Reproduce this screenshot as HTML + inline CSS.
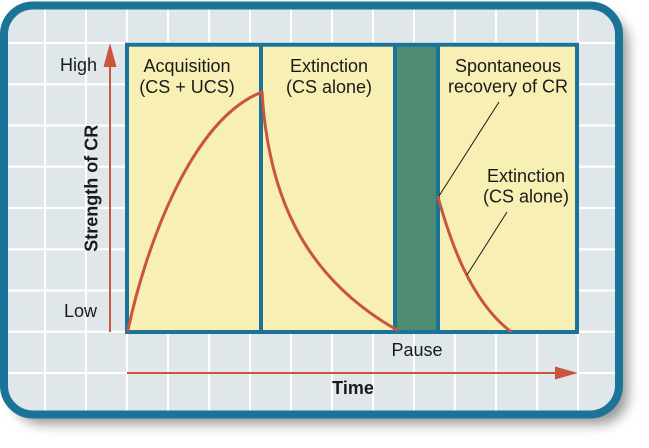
<!DOCTYPE html>
<html><head><meta charset="utf-8"><style>
html,body{margin:0;padding:0;background:#fff;}
svg{display:block;}
text{font-family:"Liberation Sans",sans-serif;fill:#1a1a1a;}
</style></head><body>
<svg width="649" height="448" viewBox="0 0 649 448" xmlns="http://www.w3.org/2000/svg">
<defs>
<filter id="blur" x="-10%" y="-10%" width="120%" height="120%"><feGaussianBlur stdDeviation="6"/></filter>
<clipPath id="inner"><rect x="8" y="9.5" width="607" height="401" rx="25"/></clipPath>
</defs>
<rect x="13" y="14" width="615" height="410" rx="29" fill="#6a6a6a" opacity="0.7" filter="url(#blur)"/>
<rect x="4" y="5.5" width="615" height="409" rx="29" fill="#dfe7ea"/>
<g clip-path="url(#inner)" stroke="#ffffff" stroke-width="2">
<line x1="45" y1="0" x2="45" y2="448"/><line x1="86" y1="0" x2="86" y2="448"/><line x1="127" y1="0" x2="127" y2="448"/><line x1="168" y1="0" x2="168" y2="448"/><line x1="209" y1="0" x2="209" y2="448"/><line x1="250" y1="0" x2="250" y2="448"/><line x1="291" y1="0" x2="291" y2="448"/><line x1="332" y1="0" x2="332" y2="448"/><line x1="373" y1="0" x2="373" y2="448"/><line x1="414" y1="0" x2="414" y2="448"/><line x1="455" y1="0" x2="455" y2="448"/><line x1="496" y1="0" x2="496" y2="448"/><line x1="537" y1="0" x2="537" y2="448"/><line x1="578" y1="0" x2="578" y2="448"/>
<line x1="0" y1="43" x2="649" y2="43"/><line x1="0" y1="84.3" x2="649" y2="84.3"/><line x1="0" y1="125.5" x2="649" y2="125.5"/><line x1="0" y1="166.8" x2="649" y2="166.8"/><line x1="0" y1="208" x2="649" y2="208"/><line x1="0" y1="249.3" x2="649" y2="249.3"/><line x1="0" y1="290.5" x2="649" y2="290.5"/><line x1="0" y1="331.8" x2="649" y2="331.8"/><line x1="0" y1="373" x2="649" y2="373"/>
</g>
<rect x="4" y="5.5" width="615" height="409" rx="29" fill="none" stroke="#1b7398" stroke-width="8"/>

<rect x="127" y="44.7" width="450" height="287.3" fill="#f7efb3"/>
<rect x="395" y="44.7" width="43" height="287.3" fill="#4e8d74"/>
<g stroke="#1b7398" stroke-width="4" fill="none">
<rect x="127" y="44.7" width="450" height="287.3"/>
<line x1="261" y1="44.7" x2="261" y2="332"/>
<line x1="395" y1="44.7" x2="395" y2="332"/>
<line x1="438" y1="44.7" x2="438" y2="332"/>
</g>

<g stroke="#c9553f" stroke-width="3" fill="none" stroke-linecap="round">
<path d="M128,330 C145,250 190,120 262,92"/>
<path d="M262,92 C268,190 300,275 397,330"/>
<path d="M438,197 C450,240 470,300 510,331"/>
</g>

<g stroke="#1a1a1a" stroke-width="1">
<line x1="439" y1="196" x2="499" y2="102"/>
<line x1="467" y1="275" x2="507" y2="212"/>
</g>

<g stroke="#c9553f" stroke-width="2">
<line x1="110" y1="332" x2="110" y2="62"/>
<line x1="127" y1="373" x2="560" y2="373"/>
</g>
<polygon points="110,43 103.5,67 116.5,67" fill="#c9553f"/>
<polygon points="578,373 555,366.5 555,379.5" fill="#c9553f"/>

<g font-size="18">
<text x="187" y="72" text-anchor="middle">Acquisition</text>
<text x="187" y="93" text-anchor="middle">(CS + UCS)</text>
<text x="329" y="72" text-anchor="middle">Extinction</text>
<text x="329" y="93" text-anchor="middle">(CS alone)</text>
<text x="508" y="72" text-anchor="middle">Spontaneous</text>
<text x="508" y="92.5" text-anchor="middle">recovery of CR</text>
<text x="526" y="182" text-anchor="middle">Extinction</text>
<text x="526" y="202.5" text-anchor="middle">(CS alone)</text>
<text x="97" y="71" text-anchor="end">High</text>
<text x="97" y="317" text-anchor="end">Low</text>
<text x="417" y="356" text-anchor="middle">Pause</text>
<text x="353" y="394" text-anchor="middle" font-weight="bold">Time</text>
<text transform="translate(97.5,188.3) rotate(-90)" text-anchor="middle" font-weight="bold">Strength of CR</text>
</g>
</svg>
</body></html>
